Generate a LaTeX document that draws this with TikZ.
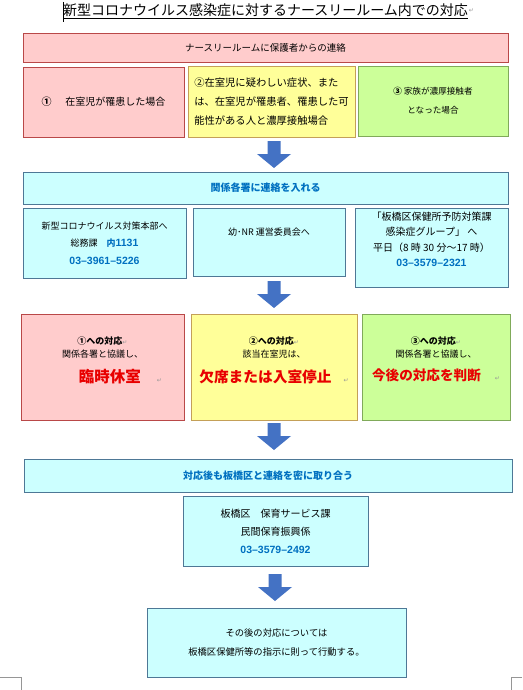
\documentclass[tikz,border=0pt]{standalone}
\usepackage{fontspec}
\setmainfont{Noto Sans CJK JP}
\newfontfamily\telfont{Liberation Sans}
\newfontfamily\markfont{DejaVu Sans}
\usetikzlibrary{positioning}
\usepackage{xcolor}

\definecolor{pinkfill}{RGB}{255,204,204}
\definecolor{pinkline}{RGB}{185,72,72}
\definecolor{yellowfill}{RGB}{255,255,153}
\definecolor{yellowline}{RGB}{196,160,88}
\definecolor{greenfill}{RGB}{204,255,153}
\definecolor{greenline}{RGB}{128,170,90}
\definecolor{cyanfill}{RGB}{204,255,255}
\definecolor{cyanline}{RGB}{78,120,150}
\definecolor{arrowblue}{RGB}{68,114,196}
\definecolor{telblue}{RGB}{0,112,192}
\definecolor{alertred}{RGB}{232,0,0}
\definecolor{markgray}{RGB}{150,150,150}

\newcommand{\retmark}{{\markfont\color{markgray}\fontsize{6}{6}\selectfont ↵}}
\newcommand{\tel}[1]{{\telfont\bfseries\color{telblue}\fontsize{10.5}{12}\selectfont #1}}
\newcommand{\urgent}[2]{{\bfseries\color{alertred}\fontsize{#1}{#1}\selectfont #2}}

\tikzset{
  box/.style={draw, line width=0.8pt, inner sep=2pt, align=center},
  pinkbox/.style={box, draw=pinkline, fill=pinkfill},
  yellowbox/.style={box, draw=yellowline, fill=yellowfill},
  greenbox/.style={box, draw=greenline, fill=greenfill},
  cyanbox/.style={box, draw=cyanline, fill=cyanfill},
  headtext/.style={font=\bfseries\fontsize{10}{12}\selectfont, text=telblue},
  resptext/.style={inner sep=0pt, align=center, font=\fontsize{9}{13}\selectfont},
  flowarrow/.style={fill=arrowblue}
}

\begin{document}
\begin{tikzpicture}[x=1pt,y=-1pt]
  \fill[white] (0,0) rectangle (522,690);
  \useasboundingbox (0,0) rectangle (522,690);

  % Title
  \node[inner sep=0pt, font=\fontsize{14}{16}\selectfont] (title) at (265.5,11) {\underline{新型コロナウイルス感染症に対するナースリールーム内での対応}};
  \node[anchor=west, inner sep=0.5pt] (titlemark) at (title.east) {\retmark};
  \draw[line width=0.4pt] (63,2) -- (63,22);

  % First contact and the three cases
  \node[pinkbox, minimum width=485pt, minimum height=29pt, font=\fontsize{9.5}{12}\selectfont] (contact) at (265.5,47.5) {ナースリールームに保護者からの連絡};
  \node[pinkbox, minimum width=161pt, minimum height=70pt, font=\fontsize{10}{12}\selectfont] (caseA) at (103.5,102) {{\bfseries ①}\hspace{14pt}在室児が罹患した場合};
  \node[yellowbox, minimum width=167pt, minimum height=71pt, align=left, font=\fontsize{10.3}{19}\selectfont] (caseB) at (271.5,101.5) {②在室児に疑わしい症状、また\\は、在室児が罹患者、罹患した可\\能性がある人と濃厚接触場合};
  \node[greenbox, minimum width=150pt, minimum height=70pt, font=\fontsize{8.6}{19}\selectfont] (caseC) at (433,101) {{\bfseries ③} 家族が濃厚接触者\\となった場合};

  % Arrow tops
  \coordinate (arrA) at (274,141);
  \coordinate (arrB) at (274,281);
  \coordinate (arrC) at (274,423);
  \coordinate (arrD) at (275,574);
  \foreach \a in {arrA,arrB,arrC,arrD}
    \fill[flowarrow] ([xshift=-6.5pt]\a) -- ++(13,0) -- ++(0,13) -- ++(10.5,0) -- ++(-17,14) -- ++(-17,-14) -- ++(10.5,0) -- cycle;

  % Contacts
  \node[cyanbox, headtext, minimum width=485pt, minimum height=32pt] (notify) at (265.5,188) {関係各署に連絡を入れる};
  \node[cyanbox, minimum width=163pt, minimum height=70pt, font=\fontsize{9}{17.5}\selectfont] (hq) at (104.5,243) {新型コロナウイルス対策本部へ\\総務課\hspace{9pt}{\bfseries\color{telblue}内}\tel{1131}\\\tel{03–3961–5226}};
  \node[cyanbox, minimum width=152pt, minimum height=68pt] (board) at (269,242) {};
  \node[inner sep=0pt, font=\fontsize{9}{15}\selectfont, below=20pt of board.north] (boardtext) {幼･NR 運営委員会へ};
  \node[cyanbox, minimum width=153pt, minimum height=79pt] (health) at (431.5,247.5) {};
  \node[inner sep=0pt, align=center, font=\fontsize{10}{15.5}\selectfont, below=4pt of health.north] (healthtext) {「板橋区保健所予防対策課\\感染症グループ」 へ\\平日（8 時 30 分～17 時）\\\tel{03–3579–2321}};

  % Responses
  \node[pinkbox, minimum width=163pt, minimum height=106pt] (respA) at (102.5,367) {};
  \node[resptext, below=23pt of respA.north] (respAtext) {{\bfseries ①への対応}\retmark\\関係各署と協議し、\\[10pt]\hspace*{36pt}\urgent{15.5}{臨時休室}\hspace{16pt}\retmark};
  \node[yellowbox, minimum width=166pt, minimum height=106pt] (respB) at (274,367) {};
  \node[resptext, below=23pt of respB.north] (respBtext) {{\bfseries ②への対応}\retmark\\該当在室児は、\\[10pt]\urgent{14.7}{欠席または入室停止}\hspace{12pt}\retmark};
  \node[greenbox, minimum width=148pt, minimum height=106pt] (respC) at (436,367) {};
  \node[resptext, below=23pt of respC.north] (respCtext) {{\bfseries ③への対応}\retmark\\関係各署と協議し、\\[10pt]\urgent{13.6}{今後の対応を判断}\hspace{14pt}\retmark};

  % Follow-up
  \node[cyanbox, headtext, minimum width=488pt, minimum height=33pt] (followup) at (268,475.5) {対応後も板橋区と連絡を密に取り合う};
  \node[cyanbox, minimum width=185pt, minimum height=70pt, font=\fontsize{10}{18}\selectfont] (itabashi) at (275.5,531) {板橋区　保育サービス課\\民間保育振興係\\\tel{03–3579–2492}};
  \node[cyanbox, minimum width=259pt, minimum height=69pt, font=\fontsize{9.3}{19}\selectfont] (instruct) at (276.5,642.5) {その後の対応については\\板橋区保健所等の指示に則って行動する。};

  % Page corner marks
  \draw[markgray, line width=0.4pt] (0,677) -- (21,677) -- (21,690);
  \draw[markgray, line width=0.4pt] (522,677) -- (511,677) -- (511,690);
\end{tikzpicture}
\end{document}
